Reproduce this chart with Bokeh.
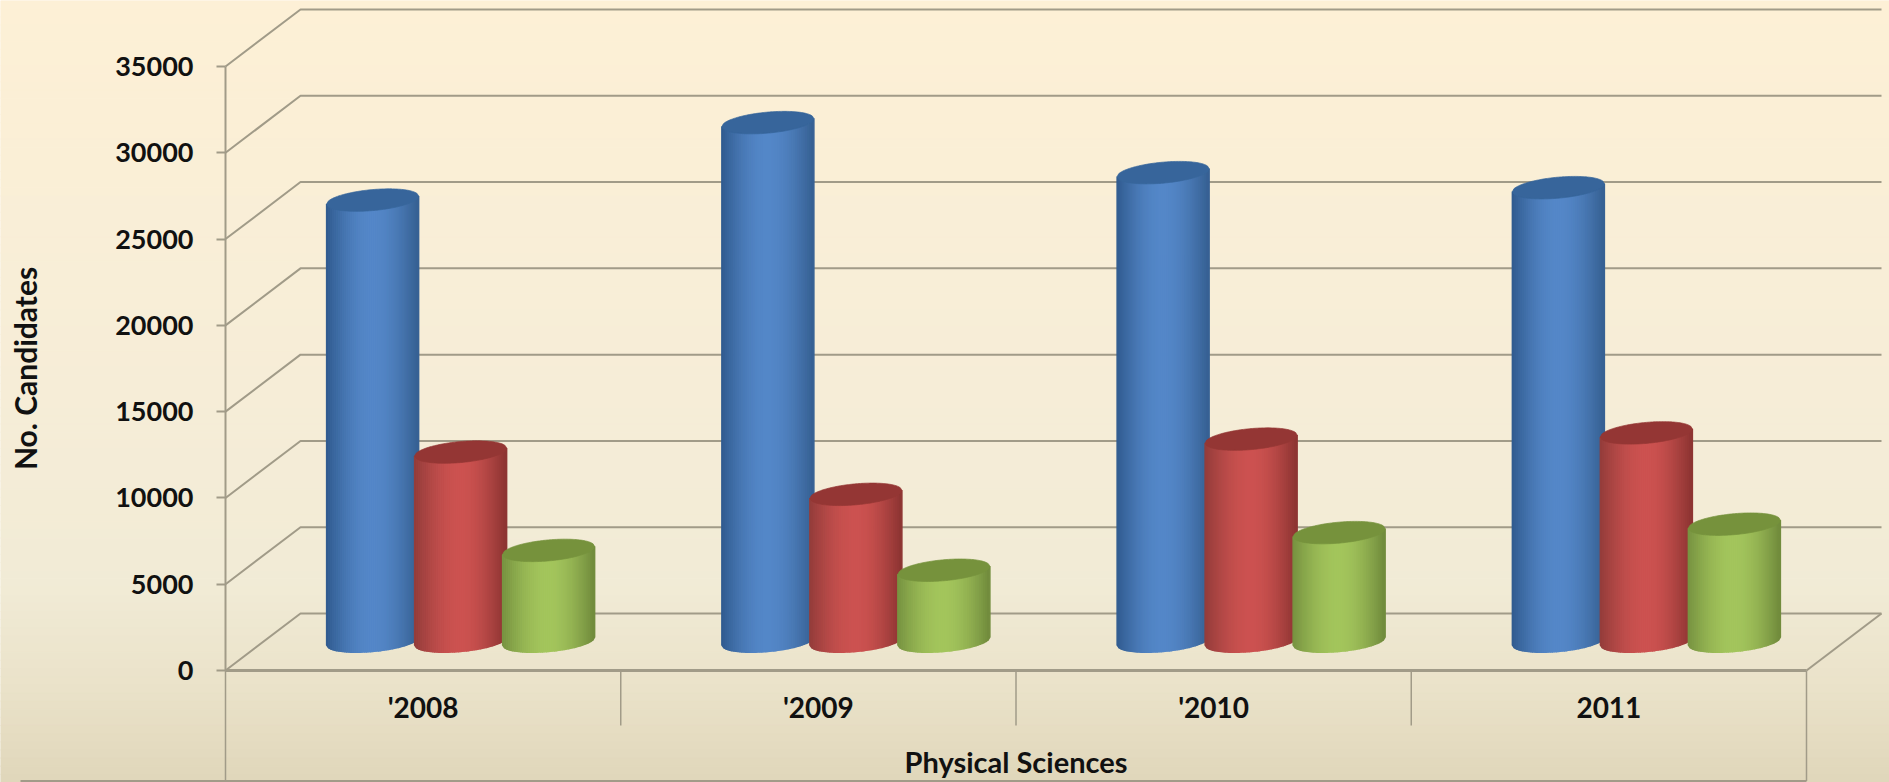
from bokeh.plotting import figure
from bokeh.models import LinearAxis, FixedTicker, BasicTickFormatter, Range1d
from bokeh.embed import file_html
from bokeh.resources import INLINE
import numpy as np

# ---- data ----
years = ["'2008", "'2009", "'2010", "2011"]
series_blue = [25550, 30040, 27140, 26270]
series_red = [10950, 8500, 11700, 12060]
series_green = [5250, 4100, 6280, 6770]
y_ticks = [0, 5000, 10000, 15000, 20000, 25000, 30000, 35000]
group_title = "Physical Sciences"
y_title = "No. Candidates"

# ---- layout scales ----
W, H = 1889, 782
PX_X = 395.25              # pixels per category
PX_Y = 604 / 35000         # pixels per candidate
AX_L, AX_B = 225, 670      # pixel of the axes' origin within the figure

def dx(px): return px / PX_X
def dy(px): return px / PX_Y

x_start = -0.5 - dx(AX_L)
x_end = -0.5 + dx(W - AX_L)
y_start = -dy(H - AX_B)
y_end = dy(AX_B)

p = figure(width=W, height=H, output_backend="svg", toolbar_location=None,
           x_range=Range1d(x_start, x_end), y_range=Range1d(y_start, y_end),
           x_axis_type=None, y_axis_type=None, min_border=0, outline_line_color=None)
p.grid.visible = False

# ---- background gradient ----
stops_t = [0.0, 0.5, 0.75, 0.88, 1.0]
stops_c = [(253, 240, 214), (246, 237, 215), (241, 235, 214), (234, 226, 201), (224, 215, 186)]
N = 96
edges = np.linspace(y_end, y_start, N + 1)
bg = []
for i in range(N):
    t = (i + .5) / N
    bg.append("#%02x%02x%02x" % tuple(int(round(np.interp(t, stops_t, [c[k] for c in stops_c]))) for k in range(3)))
p.quad(left=x_start, right=x_end, top=edges[:-1], bottom=edges[1:],
       fill_color=bg, line_color=bg, line_width=1, level="underlay")

# ---- walls and gridlines ----
GRID = "#a19b88"
DEPTH_X, DEPTH_Y = dx(75), dy(57)
xl, xr = -0.5, 3.5
gx = [[xl, xl + DEPTH_X, xr + DEPTH_X] for _ in y_ticks]
gy = [[v, v + DEPTH_Y, v + DEPTH_Y] for v in y_ticks]
p.multi_line(gx, gy, line_color=GRID, line_width=2)
p.line([xr, xr + DEPTH_X], [0, DEPTH_Y], line_color=GRID, line_width=2)
# category frame under the floor
low = dy(55)
frame_y = -dy(110.5)
p.segment([0.5, 1.5, 2.5], [0, 0, 0], [0.5, 1.5, 2.5], [-low] * 3, line_color=GRID, line_width=1.5)
p.segment([xl, xr], [0, 0], [xl, xr], [frame_y, frame_y], line_color=GRID, line_width=1.5)
p.line([xl - dx(205), xr], [frame_y, frame_y], line_color=GRID, line_width=2)

# ---- cylinders ----
def mix(a, b, t):
    return tuple(a[k] + (b[k] - a[k]) * t for k in range(3))

def shade(edge_l, mid, edge_r, t):
    if t < .5:
        c = mix(edge_l, mid, np.sin(t / .5 * np.pi / 2))
    else:
        c = mix(edge_r, mid, np.sin((1 - t) / .5 * np.pi / 2))
    return "#%02x%02x%02x" % tuple(int(round(v)) for v in c)

RX, RY = dx(46), dy(10.5)
TILT = dy(8) / dx(92)      # rise per x unit
STEP = dx(88)
SHIFT_X, SHIFT_Y = DEPTH_X / 2, DEPTH_Y / 2 + dy(1)
STRIPS = 46

palette = [
    (series_blue, (48, 90, 142), (84, 135, 200), (54, 96, 146), "#37659b", -1),
    (series_red, (146, 60, 58), (204, 82, 80), (140, 52, 50), "#943634", 0),
    (series_green, (118, 146, 64), (163, 197, 92), (112, 138, 60), "#76923c", 1),
]

for vals, el, mid, er, cap, pos in palette:
    for g, v in enumerate(vals):
        cx = g + SHIFT_X + pos * STEP
        ts = np.linspace(-1, 1, STRIPS + 1)
        xs, ys, cols = [], [], []
        front = lambda tt: SHIFT_Y + TILT * RX * tt - RY * np.sqrt(np.clip(1 - tt * tt, 0, 1))
        for i in range(STRIPS):
            a, b = ts[i], ts[i + 1]
            xa, xb = cx + a * RX, cx + b * RX
            xs.append([xa, xb, xb, xa])
            ys.append([front(a), front(b), v + front(b), v + front(a)])
            cols.append(shade(el, mid, er, (i + .5) / STRIPS))
        p.patches(xs, ys, fill_color=cols, line_color=cols, line_width=1.5)
        tt = np.linspace(-1, 1, 61)
        upper = SHIFT_Y + TILT * RX * tt + RY * np.sqrt(1 - tt * tt)
        lower = SHIFT_Y + TILT * RX * tt - RY * np.sqrt(1 - tt * tt)
        p.patch(np.r_[cx + tt * RX, cx + tt[::-1] * RX], np.r_[v + upper, v + lower[::-1]],
                fill_color=cap, line_color=cap, line_width=0.7)

# ---- axes ----
FONT = "Lato"
yax = LinearAxis(ticker=FixedTicker(ticks=y_ticks), formatter=BasicTickFormatter(use_scientific=False),
                 fixed_location=xl, bounds=(0, 35000), axis_label=y_title)
yax.axis_line_color = GRID
yax.axis_line_width = 2
yax.major_tick_line_color = GRID
yax.major_tick_line_width = 2
yax.major_tick_in = 0
yax.major_tick_out = 9
yax.minor_tick_line_color = None
yax.major_label_standoff = 23
yax.major_label_text_font = FONT
yax.major_label_text_font_size = "27px"
yax.major_label_text_font_style = "bold"
yax.major_label_text_color = "#111111"
yax.axis_label_text_font = FONT
yax.axis_label_text_font_size = "30px"
yax.axis_label_text_font_style = "bold"
yax.axis_label_text_color = "#111111"
yax.axis_label_standoff = 69
p.add_layout(yax, "left")

xax = LinearAxis(ticker=FixedTicker(ticks=[0, 1, 2, 3]), fixed_location=0, bounds=(xl, xr),
                 major_label_overrides={i: y for i, y in enumerate(years)}, axis_label=group_title)
xax.axis_line_color = GRID
xax.axis_line_width = 3
xax.major_tick_line_color = None
xax.major_tick_in = 0
xax.major_tick_out = 0
xax.minor_tick_line_color = None
xax.major_label_standoff = 19
xax.major_label_text_font = FONT
xax.major_label_text_font_size = "28px"
xax.major_label_text_font_style = "bold"
xax.major_label_text_color = "#111111"
xax.axis_label_text_font = FONT
xax.axis_label_text_font_size = "29px"
xax.axis_label_text_font_style = "bold"
xax.axis_label_text_color = "#111111"
xax.axis_label_standoff = 17
p.add_layout(xax, "below")

open("out.html", "w").write(file_html(p, INLINE))
